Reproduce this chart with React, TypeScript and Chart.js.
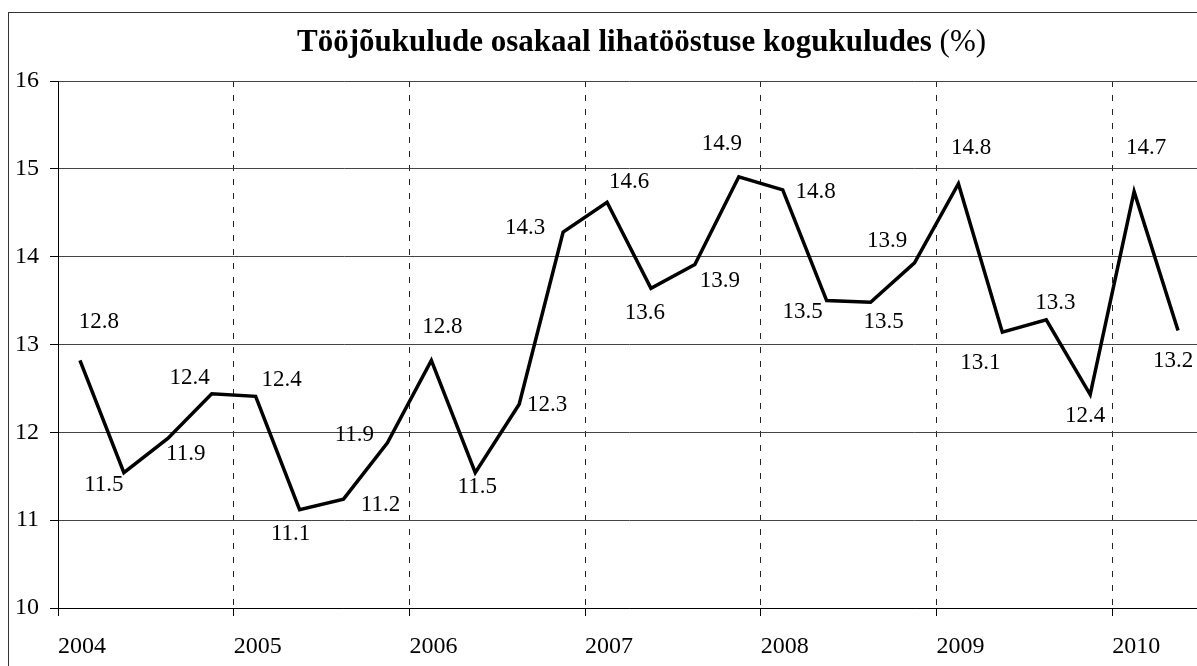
import { useEffect, useRef } from 'react';
import { Chart, registerables } from 'chart.js';

Chart.register(...registerables);

// ---- data ----
const startYear = 2004;
const yearLabels = ['2004', '2005', '2006', '2007', '2008', '2009', '2010'];
const quarterValues = [
  12.82, 11.54, 11.93, 12.44,
  12.41, 11.12, 11.24, 11.88,
  12.82, 11.54, 12.32, 14.28,
  14.62, 13.64, 13.91, 14.91,
  14.76, 13.5, 13.48, 13.93,
  14.83, 13.14, 13.28, 12.43,
  14.74, 13.16,
];
const yTicks = [10, 11, 12, 13, 14, 15, 16];
const titleBold = 'Tööjõukulude osakaal lihatööstuse kogukuludes ';
const titleNormal = '(%)';

// label placement (style): offset of each value label from its point, px
const labelOffsets: [number, number][] = [
  [19, -38], [-20, 12.5], [18, 15], [-22, -15.5],
  [26, -16], [-9, 24], [37, 6], [-33, -7.6],
  [11, -33], [2, 14], [28, 1], [-38, -4],
  [22, -20], [-6, 25], [25, 16.6], [-17, -32.6],
  [33, 2], [-24, 11], [13, 20], [-27.5, -21.6],
  [12.6, -35.6], [-22, 31], [9, -17], [-5, 21],
  [12, -43.5], [-5, 31],
];

const FONT = "'Times New Roman', 'Liberation Serif', serif";

const valueLabelPlugin = {
  id: 'valueLabels',
  afterDatasetsDraw(chart: any) {
    const ctx = chart.ctx;
    const meta = chart.getDatasetMeta(0);
    ctx.save();
    ctx.font = `23px ${FONT}`;
    ctx.fillStyle = '#000';
    ctx.textAlign = 'center';
    ctx.textBaseline = 'middle';
    meta.data.forEach((pt: any, i: number) => {
      const [dx, dy] = labelOffsets[i] || [0, -20];
      ctx.fillText(quarterValues[i].toFixed(1), pt.x + dx, pt.y + dy);
    });
    ctx.restore();
  },
};

const titlePlugin = {
  id: 'mixedTitle',
  afterDraw(chart: any) {
    const ctx = chart.ctx;
    ctx.save();
    ctx.textBaseline = 'alphabetic';
    ctx.textAlign = 'left';
    const boldFont = `bold 31px ${FONT}`;
    const normFont = `31px ${FONT}`;
    ctx.font = boldFont;
    const w1 = ctx.measureText(titleBold).width;
    ctx.font = normFont;
    const w2 = ctx.measureText(titleNormal).width;
    const cx = 632.5;
    const x0 = cx - (w1 + w2) / 2;
    const y = 37.5;
    ctx.fillStyle = '#000';
    ctx.font = boldFont;
    ctx.fillText(titleBold, x0, y);
    ctx.font = normFont;
    ctx.fillText(titleNormal, x0 + w1, y);
    ctx.restore();
  },
};

export default function App() {
  const ref = useRef<HTMLCanvasElement | null>(null);

  useEffect(() => {
    if (!ref.current) return;
    const points = quarterValues.map((v, i) => ({ x: i + 0.5, y: v }));
    const chart = new Chart(ref.current, {
      type: 'line',
      data: {
        datasets: [
          {
            data: points,
            borderColor: '#000',
            borderWidth: 3.5,
            pointRadius: 0,
            tension: 0,
            fill: false,
          },
        ],
      },
      options: {
        animation: false,
        responsive: false,
        events: [],
        layout: { padding: { top: 68, left: 0, right: 77, bottom: 0 } },
        plugins: {
          legend: { display: false },
          title: { display: false },
          tooltip: { enabled: false },
        },
        scales: {
          x: {
            type: 'linear',
            min: 0,
            max: quarterValues.length,
            afterFit: (s: any) => {
              s.height = 85;
            },
            afterBuildTicks: (s: any) => {
              s.ticks = yearLabels.map((_, i) => ({ value: i * 4 }));
            },
            ticks: {
              align: 'start',
              padding: 16,
              color: '#000',
              font: { family: FONT, size: 24 },
              maxRotation: 0,
              autoSkip: false,
              callback: (v: any) => String(startYear + Math.round(Number(v) / 4)),
            },
            grid: {
              color: (c: any) => (c.tick && c.tick.value === 0 ? 'rgba(0,0,0,0)' : '#222'),
              lineWidth: 1,
              tickLength: 8,
              tickColor: '#000',
              drawTicks: true,
            },
            border: { display: true, color: '#000', width: 1, dash: [6, 8] },
          },
          y: {
            type: 'linear',
            min: yTicks[0],
            max: yTicks[yTicks.length - 1],
            afterFit: (s: any) => {
              s.width = 49;
            },
            afterBuildTicks: (s: any) => {
              s.ticks = yTicks.map((v) => ({ value: v }));
            },
            ticks: {
              padding: 11,
              color: '#000',
              font: { family: FONT, size: 24 },
              callback: (v: any) => String(v),
            },
            grid: {
              color: '#444',
              lineWidth: 1,
              tickLength: 8,
              tickColor: '#000',
            },
            border: { display: true, color: '#000', width: 1 },
          },
        },
      },
      plugins: [valueLabelPlugin, titlePlugin],
    });
    return () => chart.destroy();
  }, []);

  return (
    <div style={{ position: 'fixed', inset: 0, overflow: 'hidden', background: '#fff' }}>
      <div
        style={{
          position: 'absolute',
          left: 8,
          top: 12,
          width: 1300,
          height: 700,
          border: '1px solid #333',
          background: '#fff',
        }}
      >
        <canvas ref={ref} width={1268} height={680} style={{ display: 'block' }} />
      </div>
    </div>
  );
}
